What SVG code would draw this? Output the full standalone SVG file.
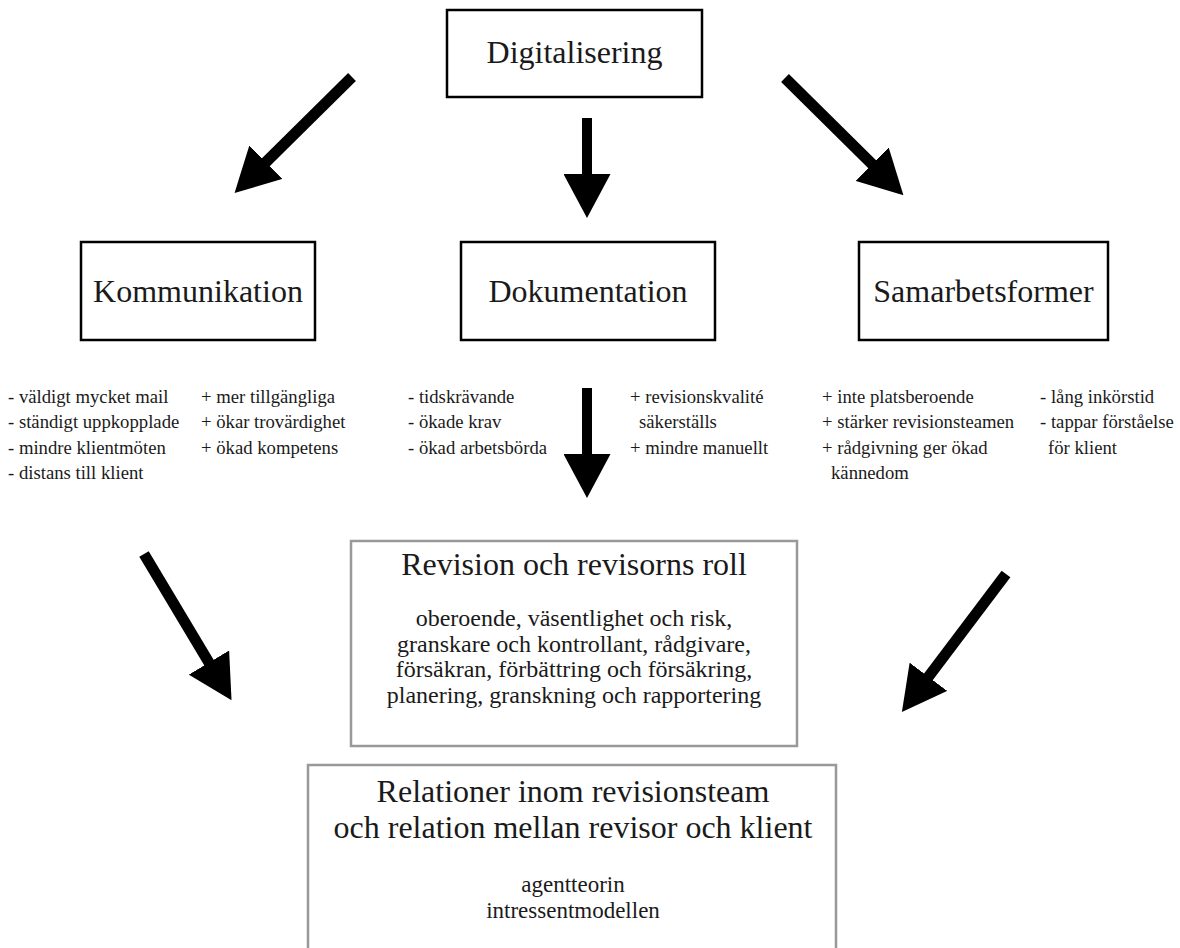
<svg xmlns="http://www.w3.org/2000/svg" width="1180" height="948" viewBox="0 0 1180 948">
<style>
text{font-family:"Liberation Serif","Times New Roman",serif;fill:#1a1a1a}
.t{font-size:32px;text-anchor:middle}
.b{font-size:24px;text-anchor:middle}
.r{font-size:23px;text-anchor:middle}
.s{font-size:18.7px}
.box{fill:#fff;stroke:#000;stroke-width:2.5}
.gbox{fill:#fff;stroke:#999;stroke-width:2.5}
.arr{stroke:#000;stroke-width:11;fill:none;marker-end:url(#head)}
.arrv{stroke:#000;stroke-width:10;fill:none;marker-end:url(#head)}
</style>
<defs>
<marker id="head" markerUnits="userSpaceOnUse" viewBox="0 0 44 47" refX="4" refY="23.5" markerWidth="44" markerHeight="47" orient="auto">
<path d="M0,0 L44,23.5 L0,47 Z" fill="#000"/>
</marker>
</defs>
<rect width="1180" height="948" fill="#fff"/>
<g id="connectors">
<line class="arr" x1="352" y1="77" x2="263" y2="165"/>
<line class="arrv" x1="587" y1="118" x2="587" y2="178"/>
<line class="arr" x1="785" y1="78" x2="875" y2="167"/>
<line class="arr" x1="144" y1="554" x2="211" y2="666"/>
<line class="arrv" x1="587" y1="388" x2="587" y2="458"/>
<line class="arr" x1="1006" y1="574" x2="926" y2="680"/>
</g>
<g id="digitalisering">
<rect class="box" x="447" y="10" width="255" height="87"/>
<text class="t" x="574.5" y="63">Digitalisering</text>
</g>
<g id="kommunikation">
<rect class="box" x="81" y="242" width="234" height="98"/>
<text class="t" x="198" y="302">Kommunikation</text>
</g>
<g id="dokumentation">
<rect class="box" x="461" y="242" width="254" height="98"/>
<text class="t" x="588" y="302">Dokumentation</text>
</g>
<g id="samarbetsformer">
<rect class="box" x="859" y="242" width="249" height="98"/>
<text class="t" x="983.5" y="302">Samarbetsformer</text>
</g>
<g id="kommunikation-notes">
<text class="s" x="8" y="403">- väldigt mycket mail</text>
<text class="s" x="8" y="428.3">- ständigt uppkopplade</text>
<text class="s" x="8" y="453.6">- mindre klientmöten</text>
<text class="s" x="8" y="479">- distans till klient</text>
<text class="s" x="201" y="403">+ mer tillgängliga</text>
<text class="s" x="201" y="428.3">+ ökar trovärdighet</text>
<text class="s" x="201" y="453.6">+ ökad kompetens</text>
</g>
<g id="dokumentation-notes">
<text class="s" x="408" y="403">- tidskrävande</text>
<text class="s" x="408" y="428.3">- ökade krav</text>
<text class="s" x="408" y="453.6">- ökad arbetsbörda</text>
<text class="s" x="630" y="403">+ revisionskvalité</text>
<text class="s" x="639" y="428.3">säkerställs</text>
<text class="s" x="630" y="453.6">+ mindre manuellt</text>
</g>
<g id="samarbetsformer-notes">
<text class="s" x="822" y="403">+ inte platsberoende</text>
<text class="s" x="822" y="428.3">+ stärker revisionsteamen</text>
<text class="s" x="822" y="453.6">+ rådgivning ger ökad</text>
<text class="s" x="831" y="479">kännedom</text>
<text class="s" x="1040" y="403">- lång inkörstid</text>
<text class="s" x="1040" y="428.3">- tappar förståelse</text>
<text class="s" x="1048" y="453.6">för klient</text>
</g>
<g id="revision">
<rect class="gbox" x="351" y="541" width="446" height="205"/>
<text class="t" x="574" y="575">Revision och revisorns roll</text>
<text class="b" x="574" y="626">oberoende, väsentlighet och risk,</text>
<text class="b" x="574" y="651.5">granskare och kontrollant, rådgivare,</text>
<text class="b" x="574" y="677">försäkran, förbättring och försäkring,</text>
<text class="b" x="574" y="702.5">planering, granskning och rapportering</text>
</g>
<g id="relationer">
<rect class="gbox" x="308" y="765" width="528" height="200"/>
<text class="t" x="573" y="802">Relationer inom revisionsteam</text>
<text class="t" x="573" y="838">och relation mellan revisor och klient</text>
<text class="r" x="573" y="892">agentteorin</text>
<text class="r" x="573" y="918">intressentmodellen</text>
</g>
</svg>
